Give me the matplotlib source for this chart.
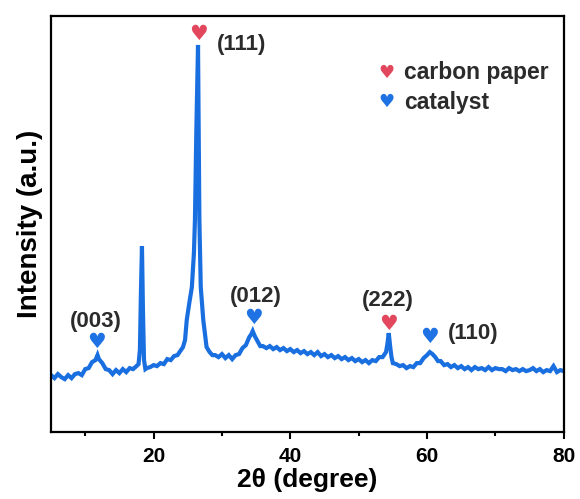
import matplotlib
matplotlib.use("Agg")
from matplotlib import pyplot as plt
from matplotlib.ticker import MultipleLocator

plt.rcParams['font.family'] = ['Liberation Sans', 'DejaVu Sans']
plt.rcParams['font.weight'] = 'bold'

# XRD pattern (intensity in arbitrary units)
two_theta = [5.0, 5.5, 6.0, 6.5, 7.0, 7.5, 8.0, 8.5, 9.0, 9.5,
             10.0, 10.5, 11.0, 11.5, 11.8, 12.0, 12.5, 13.0, 13.5, 14.0,
             14.5, 15.0, 15.5, 16.0, 16.5, 17.0, 17.5, 17.8, 18.0, 18.15,
             18.3, 18.45, 18.6, 18.8, 19.0, 19.5, 20.0, 20.5, 21.0, 21.5,
             22.0, 22.5, 23.0, 23.5, 24.0, 24.3, 24.6, 24.85, 25.2, 25.6,
             25.9, 26.05, 26.25, 26.5, 26.6, 26.7, 26.9, 27.27, 27.75, 28.2,
             28.6, 29.0, 29.5, 30.0, 30.5, 31.0, 31.5, 32.0, 32.5, 33.0,
             33.5, 34.0, 34.3, 34.5, 34.8, 35.2, 35.6, 36.0, 36.5, 37.0,
             37.5, 38.0, 38.5, 39.0, 39.5, 40.0, 40.5, 41.0, 41.5, 42.0,
             42.5, 43.0, 43.5, 44.0, 44.5, 45.0, 45.5, 46.0, 46.5, 47.0,
             47.5, 48.0, 48.5, 49.0, 49.5, 50.0, 50.5, 51.0, 51.5, 52.0,
             52.5, 53.0, 53.5, 54.0, 54.2, 54.4, 54.6, 54.8, 55.0, 55.5,
             56.0, 56.5, 57.0, 57.5, 58.0, 58.5, 59.0, 59.5, 60.0, 60.4,
             60.8, 61.2, 61.6, 62.0, 62.5, 63.0, 63.5, 64.0, 64.5, 65.0,
             65.5, 66.0, 66.5, 67.0, 67.5, 68.0, 68.5, 69.0, 69.5, 70.0,
             70.5, 71.0, 71.5, 72.0, 72.5, 73.0, 73.5, 74.0, 74.5, 75.0,
             75.5, 76.0, 76.5, 77.0, 77.5, 78.0, 78.5, 79.0, 79.5, 80.0]
intensity = [57, 54, 58, 55, 53, 57, 54, 58, 59, 57,
             63, 64, 70, 72, 77, 73, 69, 63, 62, 58,
             62, 59, 63, 60, 64, 63, 66, 68, 82, 140,
             186, 120, 72, 63, 64, 65, 67, 66, 69, 68,
             73, 72, 76, 77, 82, 85, 92, 112, 128, 145,
             179, 212, 300, 387, 300, 212, 145, 112, 85, 80,
             77, 77, 75, 78, 74, 77, 73, 77, 78, 84,
             87, 95, 98, 101, 96, 91, 86, 86, 84, 86,
             83, 85, 82, 84, 81, 83, 80, 82, 79, 81,
             78, 80, 77, 80, 76, 78, 75, 77, 74, 76,
             73, 75, 72, 74, 71, 73, 70, 72, 69, 72,
             71, 75, 75, 80, 88, 99, 86, 75, 69, 68,
             66, 67, 64, 66, 65, 69, 69, 74, 77, 80,
             78, 75, 71, 71, 67, 68, 65, 67, 64, 66,
             63, 65, 62, 65, 63, 64, 62, 65, 62, 64,
             63, 63, 61, 64, 62, 63, 61, 63, 61, 62,
             64, 61, 63, 60, 62, 61, 66, 60, 62, 61]

# peak marks: heart above each reflection plus its Miller index
peak_pos = [26.5, 11.7, 34.6, 54.4, 60.4]
peak_heart_y = [398, 90, 114, 108, 95]
peak_labels = ['(111)', '(003)', '(012)', '(222)', '(110)']
peak_label_x = [32.8, 11.6, 34.9, 54.2, 66.7]
peak_label_y = [387, 111, 136, 132, 99]
peak_phase = ['carbon paper', 'catalyst', 'catalyst', 'carbon paper', 'catalyst']

colors = {'carbon paper': '#e2475e', 'catalyst': '#1f72e3'}
line_color = '#1a6fe0'

fig = plt.figure(figsize=(5.8, 4.99), dpi=100)
ax = fig.add_axes([0.088, 0.134, 0.884, 0.834])

ax.plot(two_theta, intensity, color=line_color, lw=3.0, solid_joinstyle='miter')

for x, hy, lab, lx, ly, ph in zip(peak_pos, peak_heart_y, peak_labels,
                                  peak_label_x, peak_label_y, peak_phase):
    ax.text(x, hy, '\u2665', color=colors[ph], fontsize=15,
            ha='center', va='center', family='DejaVu Sans')
    ax.text(lx, ly, lab, fontsize=16, fontweight='bold', color='#2b2b2b',
            ha='center', va='center')

# legend drawn as heart + text
leg_y = [359, 330]
for (name, c), y in zip(colors.items(), leg_y):
    ax.text(54.1, y, '\u2665', color=c, fontsize=13, ha='center', va='center',
            family='DejaVu Sans')
    ax.text(56.7, y, name, fontsize=16.5, fontweight='bold', color='#2b2b2b',
            ha='left', va='center')

ax.set_xlim(5, 80)
ax.set_ylim(0, 416)
ax.xaxis.set_minor_locator(MultipleLocator(10))
ax.set_xticks([20, 40, 60, 80])
ax.set_yticks([])
ax.tick_params(axis='x', which='major', direction='out', length=5, width=1.5,
               labelsize=15, pad=6)
ax.tick_params(axis='x', which='minor', direction='out', length=3, width=1.5)
for lab in ax.get_xticklabels():
    lab.set_fontweight('bold')
for s in ax.spines.values():
    s.set_linewidth(1.6)

ax.set_xlabel('2\u03b8 (degree)', fontsize=19, fontweight='bold', labelpad=1)
ax.set_ylabel('Intensity (a.u.)', fontsize=20, fontweight='bold', labelpad=6)

fig.savefig('out.png', dpi=100)
